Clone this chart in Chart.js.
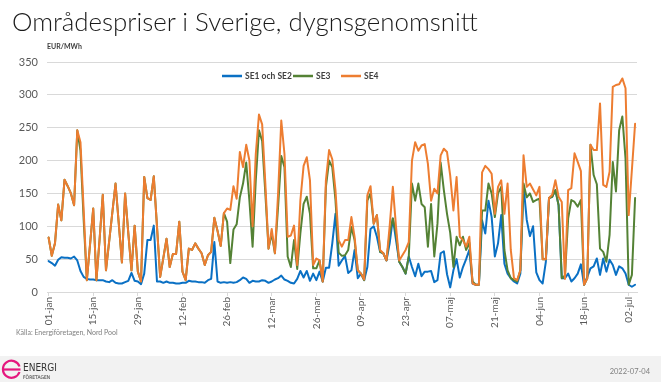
<!DOCTYPE html>
<html><head><meta charset="utf-8">
<script src="https://cdn.jsdelivr.net/npm/chart.js@4.4.1/dist/chart.umd.min.js"></script>
<style>
html,body{margin:0;padding:0;background:#fff;}
#wrap{position:relative;width:661px;height:382px;overflow:hidden;}
#c{position:absolute;left:0;top:0;}
#ov{position:absolute;left:0;top:0;pointer-events:none;font-family:Lato,"Open Sans",sans-serif;}
</style></head>
<body>
<div id="wrap">
<svg id="bg" width="661" height="382" style="position:absolute;left:0;top:0"><rect x="0" y="356" width="661" height="26" fill="#f2f2f2"/></svg>
<canvas id="c" width="661" height="382"></canvas>
<svg id="ov" width="661" height="382">
  <text id="title" x="12" y="31" font-size="26" font-weight="300" fill="#1a1a1a">Områdespriser i Sverige, dygnsgenomsnitt</text>
  <text x="47" y="49" font-size="7" font-weight="700" fill="#404040">EUR/MWh</text>
  <line x1="222" y1="76" x2="242" y2="76" stroke="#0a70c4" stroke-width="2.5"/>
  <text x="245" y="79" font-size="8.5" font-weight="700" fill="#404040">SE1 och SE2</text>
  <line x1="293" y1="76" x2="313" y2="76" stroke="#548235" stroke-width="2.5"/>
  <text x="316" y="79" font-size="8.5" font-weight="700" fill="#404040">SE3</text>
  <line x1="341" y1="76" x2="361" y2="76" stroke="#ED7D31" stroke-width="2.5"/>
  <text x="364" y="79" font-size="8.5" font-weight="700" fill="#404040">SE4</text>
  <text x="16" y="335" font-size="7" fill="#7f7f7f">Källa: Energiföretagen, Nord Pool</text>
  <path d="M19.5 372 A8.5 8.5 0 1 1 19.5 366.5" fill="none" stroke="#e5177e" stroke-width="2.2"/>
  <line x1="3" y1="369.5" x2="20.5" y2="369.5" stroke="#e5177e" stroke-width="2.2"/>
  <text x="23" y="371" font-size="10" fill="#333" font-family="'Liberation Sans Narrow','DejaVu Sans Condensed',sans-serif">ENERGI</text>
  <text x="23" y="378.5" font-size="5" fill="#333" font-family="'Liberation Sans Narrow','DejaVu Sans Condensed',sans-serif">FÖRETAGEN</text>
  <text x="650" y="374" font-size="7.5" fill="#808080" text-anchor="end">2022-07-04</text>
</svg>
</div>
<script>
const tickLabels = ['01-jan','15-jan','29-jan','12-feb','26-feb','12-mar','26-mar','09-apr','23-apr','07-maj','21-maj','04-jun','18-jun','02-jul'];
const tickDays = [0,14,28,42,56,70,84,98,112,126,140,154,168,182];
const yTicks = [0,50,100,150,200,250,300,350];

const se1 = [
47,44,40,49,53,52,52,51,54,48,
32,23,20,19,19,18,18,18,16,15,
18,14,13,13,15,17,29,17,16,12,
28,79,79,101,16,16,14,16,14,14,
13,13,14,14,17,16,16,15,15,14,
18,20,76,16,14,15,14,15,14,15,
18,22,20,14,17,16,16,18,17,14,
16,19,21,25,19,17,14,13,20,32,
22,32,17,28,18,31,16,37,37,74,
119,40,48,55,29,33,64,21,28,18,
38,96,100,84,61,59,48,74,112,79,
46,38,28,54,38,24,43,24,31,31,
32,15,18,59,62,27,7,33,50,22,
38,50,64,13,11,11,109,89,139,114,
54,74,117,43,28,21,16,13,28,162,
110,85,100,30,18,13,46,143,145,155,
132,21,21,28,16,21,28,42,11,23,
36,39,51,26,51,31,49,41,26,39,
36,28,11,8,11];

const se3 = [
83,55,74,133,109,171,161,150,132,246,
215,110,18,72,127,18,80,148,33,77,
121,165,105,45,150,90,33,101,31,16,
175,143,140,176,100,23,52,81,38,58,
58,107,31,18,66,64,74,66,59,41,
56,61,113,93,70,120,107,44,95,103,
144,165,197,139,69,170,246,230,150,66,
89,59,130,207,190,54,38,79,35,90,
134,145,119,36,36,48,16,160,200,190,
140,60,55,56,64,99,79,33,28,18,
139,150,104,117,61,59,48,89,112,89,
46,38,28,54,165,139,165,134,129,69,
134,54,104,197,155,119,90,38,84,71,
84,64,75,16,11,11,124,124,165,150,
114,150,160,64,33,21,18,16,33,165,
144,150,137,140,142,50,50,143,145,155,
132,21,25,112,140,137,130,140,11,21,
224,178,164,66,61,46,87,198,153,246,
267,203,11,26,143];

const se4 = [
83,55,74,133,109,171,161,150,132,246,
228,125,18,72,127,18,80,148,33,77,
121,165,105,45,150,90,33,101,31,16,
175,143,140,176,100,23,52,81,38,58,
58,107,31,18,66,64,74,66,59,41,
56,61,113,93,70,120,127,125,161,142,
213,190,224,200,100,210,270,255,165,66,
96,59,150,261,210,84,86,101,41,140,
192,205,170,41,51,48,16,170,216,202,
155,79,69,79,79,114,84,33,28,19,
147,161,104,117,64,59,48,100,160,99,
48,56,64,76,200,228,215,223,225,195,
139,157,150,208,218,213,177,124,175,84,
79,69,84,13,11,11,182,192,187,180,
119,160,170,119,165,64,21,18,33,208,
160,165,156,147,160,50,50,143,148,170,
145,137,20,155,158,211,198,184,11,21,
224,216,216,287,163,160,183,312,315,316,
325,310,117,186,256];

// fit the title width
(function(){
  const t = document.getElementById('title');
  const w = t.getComputedTextLength();
  if (w > 0) t.setAttribute('font-size', (26 * 466 / w).toFixed(2));
})();

const pts = arr => arr.map((v,i)=>({x:i,y:v}));
const ds = (label, arr, color, order) => ({
  label, data: pts(arr), borderColor: color, backgroundColor: color,
  borderWidth: 2, pointRadius: 0, tension: 0, order,
  borderJoinStyle: 'round', borderCapStyle: 'round'
});

new Chart(document.getElementById('c'), {
  type: 'line',
  data: { datasets: [
    ds('SE1 och SE2', se1, '#0a70c4', 3),
    ds('SE3', se3, '#548235', 2),
    ds('SE4', se4, '#ED7D31', 1)
  ]},
  options: {
    responsive: false, animation: false, devicePixelRatio: 1,
    layout: { padding: { left: 0, top: 62, right: 24, bottom: 50 } },
    plugins: { legend: { display: false }, tooltip: { enabled: false }, title: { display: false } },
    scales: {
      x: {
        type: 'linear', min: -0.5, max: 184.6,
        afterBuildTicks: s => { s.ticks = tickDays.map(v => ({ value: v })); },
        afterFit: s => { s.height = 40; },
        ticks: { autoSkip: false, minRotation: 90, maxRotation: 90, padding: 1, color: '#595959',
                 font: { family: 'Lato', size: 10 }, callback: (v, i) => tickLabels[i] },
        grid: { drawOnChartArea: false, drawTicks: true, tickLength: 4, color: '#d9d9d9' },
        border: { display: true, color: '#d9d9d9' }
      },
      y: {
        min: 0, max: 350,
        afterBuildTicks: s => { s.ticks = yTicks.map(v => ({ value: v })); },
        afterFit: s => { s.width = 47; },
        ticks: { color: '#595959', font: { family: 'Lato', size: 11 }, padding: 9 },
        grid: { color: '#d9d9d9', drawTicks: false },
        border: { display: false }
      }
    }
  }
});
</script>
</body></html>
